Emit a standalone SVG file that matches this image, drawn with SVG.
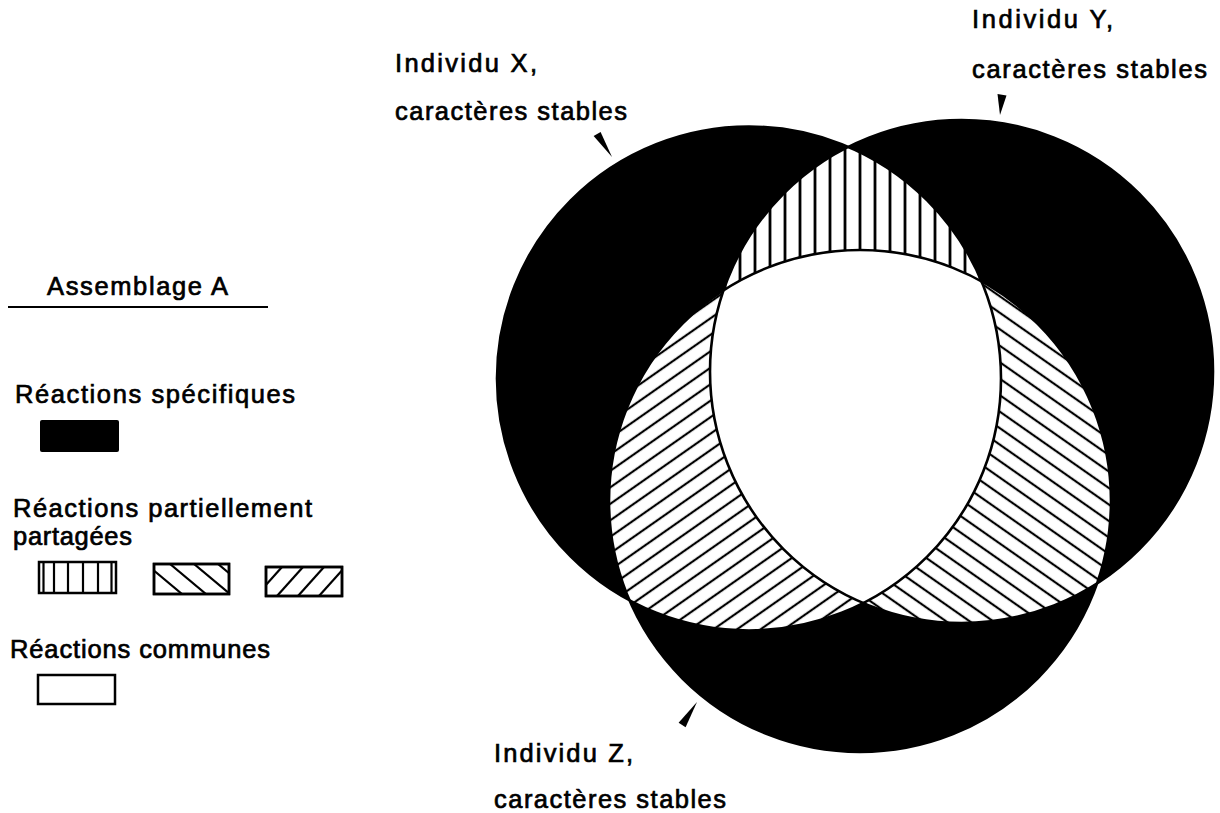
<svg xmlns="http://www.w3.org/2000/svg" width="1220" height="813" viewBox="0 0 1220 813">
<style>
text { font-family: "Liberation Sans", Arial, sans-serif; font-size: 25.5px; fill: #000; stroke: #000; stroke-width: 0.7; }
.ln { stroke: #000; stroke-width: 2.2; fill: none; }
.box { stroke: #000; stroke-width: 2.5; fill: #fff; }
.ptr { fill: #000; }
.outline { fill: none; stroke: #000; stroke-width: 2.6; }
</style>
<defs>
  <clipPath id="clipX"><circle cx="749" cy="378.5" r="252"/></clipPath>
  <clipPath id="clipY"><circle cx="961.5" cy="371.5" r="251.5"/></clipPath>
  <clipPath id="clipB2"><rect x="154" y="564" width="75" height="30"/></clipPath>
  <clipPath id="clipB3"><rect x="266" y="567" width="76" height="29"/></clipPath>
  <pattern id="pV" patternUnits="userSpaceOnUse" width="15" height="20">
    <rect width="15" height="20" fill="#fff"/>
    <line x1="5" y1="-1" x2="5" y2="21" stroke="#000" stroke-width="2.8"/>
  </pattern>
  <pattern id="pF" patternUnits="userSpaceOnUse" width="20" height="13.5" patternTransform="rotate(-35)">
    <rect width="20" height="13.5" fill="#fff"/>
    <line x1="-1" y1="6.75" x2="21" y2="6.75" stroke="#000" stroke-width="2.2"/>
  </pattern>
  <pattern id="pB" patternUnits="userSpaceOnUse" width="20" height="13.5" patternTransform="rotate(35)">
    <rect width="20" height="13.5" fill="#fff"/>
    <line x1="-1" y1="6.75" x2="21" y2="6.75" stroke="#000" stroke-width="2.2"/>
  </pattern>
</defs>
<rect width="1220" height="813" fill="#fff"/>

<g id="venn">
  <g id="circleX"><circle cx="749" cy="378.5" r="252" fill="#000"/></g>
  <g id="circleY"><circle cx="961.5" cy="371.5" r="251.5" fill="#000"/></g>
  <g id="circleZ"><circle cx="860" cy="501" r="251" fill="#000"/></g>
  <g id="XY"><circle cx="961.5" cy="371.5" r="251.5" fill="url(#pV)" clip-path="url(#clipX)"/></g>
  <g id="XZ"><circle cx="860" cy="501" r="251" fill="url(#pF)" clip-path="url(#clipX)"/></g>
  <g id="YZ"><circle cx="860" cy="501" r="251" fill="url(#pB)" clip-path="url(#clipY)"/></g>
  <g id="XYZ" clip-path="url(#clipX)"><circle cx="860" cy="501" r="251" fill="#fff" clip-path="url(#clipY)"/></g>
  <circle class="outline" cx="749" cy="378.5" r="252"/>
  <circle class="outline" cx="961.5" cy="371.5" r="251.5"/>
  <circle class="outline" cx="860" cy="501" r="251"/>
</g>

<g id="connectors">
  <polygon class="ptr" points="593.6,136.1 600.6,131.9 612,157"/>
  <polygon class="ptr" points="997.5,94 1006.5,95.5 1000,115"/>
  <polygon class="ptr" points="678.6,722.8 685.6,727.2 697,702"/>
</g>

<g id="labelX">
  <text x="395" y="72" textLength="142" lengthAdjust="spacing">Individu X,</text>
  <text x="395" y="120" textLength="232" lengthAdjust="spacing">caractères stables</text>
</g>
<g id="labelY">
  <text x="972" y="28" textLength="141" lengthAdjust="spacing">Individu Y,</text>
  <text x="972" y="78" textLength="235" lengthAdjust="spacing">caractères stables</text>
</g>
<g id="labelZ">
  <text x="494" y="762" textLength="139" lengthAdjust="spacing">Individu Z,</text>
  <text x="494" y="808" textLength="232" lengthAdjust="spacing">caractères stables</text>
</g>

<g id="legend">
  <text x="47" y="295" textLength="181" lengthAdjust="spacing">Assemblage A</text>
  <line class="ln" x1="8" y1="307" x2="268" y2="307"/>
  <text x="15" y="403" textLength="280" lengthAdjust="spacing">Réactions spécifiques</text>
  <rect x="40" y="420" width="79" height="32" rx="2" fill="#000"/>
  <text x="13" y="517" textLength="299" lengthAdjust="spacing">Réactions partiellement</text>
  <text x="13" y="545" textLength="119" lengthAdjust="spacing">partagées</text>
  <g id="legendV">
    <rect class="box" x="39" y="562" width="77" height="31"/>
    <line class="ln" x1="43.5" y1="562" x2="43.5" y2="593"/>
    <line class="ln" x1="54" y1="562" x2="54" y2="593"/>
    <line class="ln" x1="68" y1="562" x2="68" y2="593"/>
    <line class="ln" x1="83" y1="562" x2="83" y2="593"/>
    <line class="ln" x1="98" y1="562" x2="98" y2="593"/>
    <line class="ln" x1="111.5" y1="562" x2="111.5" y2="593"/>
  </g>
  <g id="legendB">
    <rect class="box" x="154" y="564" width="75" height="30"/>
    <g clip-path="url(#clipB2)">
      <line class="ln" x1="146" y1="564" x2="182" y2="594"/>
      <line class="ln" x1="170" y1="564" x2="206" y2="594"/>
      <line class="ln" x1="194" y1="564" x2="230" y2="594"/>
      <line class="ln" x1="218" y1="564" x2="254" y2="594"/>
    </g>
    <rect x="154" y="564" width="75" height="30" fill="none" stroke="#000" stroke-width="2.5"/>
  </g>
  <g id="legendF">
    <rect class="box" x="266" y="567" width="76" height="29"/>
    <g clip-path="url(#clipB3)">
      <line class="ln" x1="256" y1="596" x2="282" y2="567"/>
      <line class="ln" x1="277" y1="596" x2="303" y2="567"/>
      <line class="ln" x1="298" y1="596" x2="324" y2="567"/>
      <line class="ln" x1="319" y1="596" x2="345" y2="567"/>
    </g>
    <rect x="266" y="567" width="76" height="29" fill="none" stroke="#000" stroke-width="2.5"/>
  </g>
  <text x="10" y="658" textLength="260" lengthAdjust="spacing">Réactions communes</text>
  <rect class="box" x="38" y="675" width="77" height="29"/>
</g>
</svg>
